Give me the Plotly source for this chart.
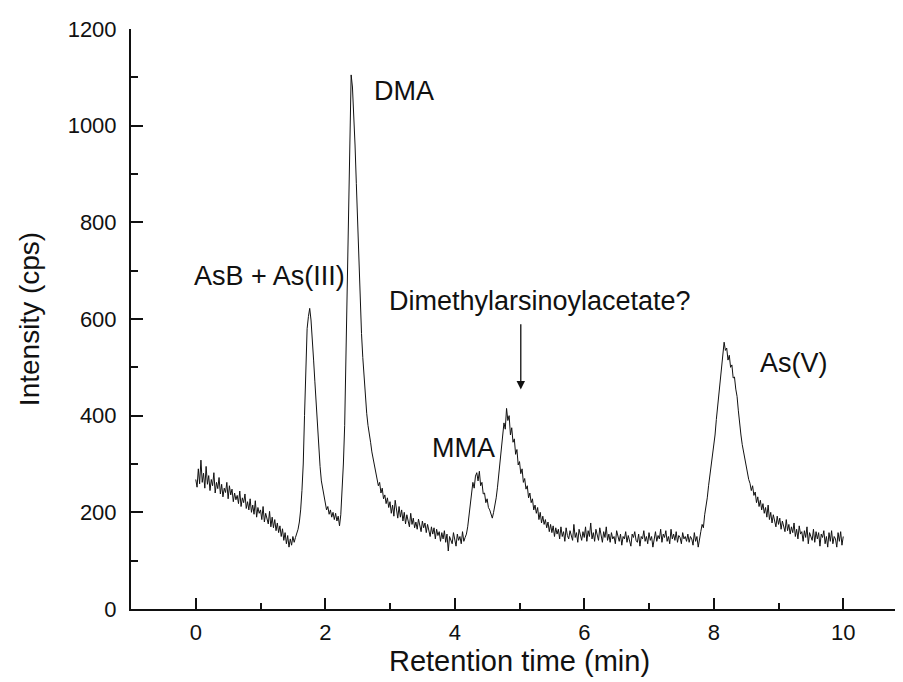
import plotly.graph_objects as go

# Sampling: one reading every 0.02 min from 0 to 10 min
time_step_min = 0.02
n_points = 501
retention_time = [round(i * time_step_min, 2) for i in range(n_points)]

# Intensity (cps), 10 readings per row (0.2 min)
intensity = [
    268, 252, 290, 259, 308, 262, 281, 250, 295, 258,    # 0.00
    276, 245, 268, 255, 282, 240, 262, 249, 272, 238,    # 0.20
    258, 232, 250, 241, 262, 228, 255, 236, 248, 222,    # 0.40
    240, 226, 235, 218, 244, 212, 230, 220, 238, 208,    # 0.60
    222, 205, 228, 200, 215, 196, 224, 190, 210, 198,    # 0.80
    205, 185, 212, 180, 198, 188, 176, 202, 170, 190,    # 1.00
    168, 185, 162, 178, 158, 172, 150, 166, 142, 158,    # 1.20
    135, 152, 128, 145, 132, 150, 138, 148, 155, 165,    # 1.40
    180, 205, 245, 300, 400, 520, 580, 605, 622, 598,    # 1.60
    565, 515, 470, 420, 385, 340, 295, 265, 248, 232,    # 1.80
    220, 205, 212, 196, 205, 190, 200, 185, 198, 182,    # 2.00
    192, 172, 195, 240, 300, 380, 520, 700, 880, 1020,   # 2.20
    1105, 1080, 1030, 960, 880, 800, 700, 620, 570, 520, # 2.40
    475, 440, 405, 380, 365, 345, 325, 310, 300, 285,    # 2.60
    270, 255, 262, 240, 250, 228, 236, 218, 230, 210,    # 2.80
    222, 198, 215, 192, 225, 200, 188, 212, 190, 205,    # 3.00
    182, 200, 176, 195, 185, 170, 198, 175, 188, 168,    # 3.20
    180, 165, 186, 172, 160, 182, 168, 178, 158, 175,    # 3.40
    162, 150, 170, 155, 168, 145, 165, 152, 160, 140,    # 3.60
    158, 145, 162, 138, 155, 120, 150, 142, 135, 158,    # 3.80
    140, 130, 155, 142, 150, 135, 160, 140, 148, 155,    # 4.00
    170, 195, 220, 248, 262, 250, 275, 282, 265, 285,    # 4.20
    255, 262, 238, 240, 220, 228, 210, 205, 195, 188,    # 4.40
    200, 212, 230, 252, 278, 300, 335, 362, 385, 372,    # 4.60
    415, 390, 400, 360, 375, 345, 352, 320, 330, 298,    # 4.80
    305, 280, 290, 262, 270, 248, 255, 230, 240, 220,    # 5.00
    228, 205, 215, 198, 210, 185, 200, 178, 192, 175,    # 5.20
    185, 168, 180, 160, 175, 158, 172, 150, 168, 155,    # 5.40
    165, 145, 170, 150, 160, 140, 168, 152, 145, 162,    # 5.60
    150, 142, 175, 148, 158, 138, 165, 150, 142, 160,    # 5.80
    148, 170, 140, 162, 150, 178, 145, 158, 140, 165,    # 6.00
    152, 142, 168, 150, 138, 160, 148, 170, 142, 155,    # 6.20
    138, 158, 145, 150, 135, 162, 148, 140, 155, 132,    # 6.40
    150, 145, 160, 138, 152, 142, 130, 155, 148, 160,    # 6.60
    142, 138, 155, 130, 150, 145, 162, 140, 150, 135,    # 6.80
    158, 142, 150, 128, 148, 160, 140, 152, 145, 165,    # 7.00
    138, 155, 148, 162, 140, 150, 135, 165, 145, 155,    # 7.20
    142, 160, 138, 152, 148, 135, 158, 145, 150, 140,    # 7.40
    155, 138, 150, 145, 132, 158, 140, 150, 128, 148,    # 7.60
    160, 175, 168, 195, 210, 230, 255, 275, 290, 315,    # 7.80
    340, 360, 392, 420, 455, 480, 510, 530, 552, 535,    # 8.00
    540, 515, 525, 500, 505, 478, 480, 455, 440, 410,    # 8.20
    380, 360, 340, 325, 312, 295, 282, 268, 260, 245,    # 8.40
    255, 235, 242, 220, 232, 212, 225, 205, 218, 198,    # 8.60
    210, 190, 215, 185, 200, 178, 195, 182, 170, 192,    # 8.80
    175, 188, 165, 182, 172, 160, 185, 162, 175, 155,    # 9.00
    170, 158, 178, 150, 165, 145, 172, 155, 160, 140,    # 9.20
    162, 148, 170, 135, 158, 150, 142, 165, 138, 160,    # 9.40
    145, 158, 130, 155, 148, 162, 135, 150, 128, 158,    # 9.60
    140, 162, 135, 150, 145, 128, 158, 140, 160, 132,    # 9.80
    150,                                                 # 10.00
]

# Peak labels: text, x (min), y (cps), horizontal anchor
label_text = ["AsB + As(III)", "DMA", "MMA", "Dimethylarsinoylacetate?", "As(V)"]
label_x = [1.14, 2.72, 3.61, 7.68, 8.69]
label_y = [689, 1072, 333, 637, 509]
label_anchor = ["center", "left", "left", "right", "left"]

# Arrow pointing at the dimethylarsinoylacetate peak
arrow_x = 5.02
arrow_tail_y = 592
arrow_head_y = 454

x_ticks = [0, 2, 4, 6, 8, 10]
y_ticks = [0, 200, 400, 600, 800, 1000, 1200]

FONT = "Liberation Sans, Arial, Helvetica, sans-serif"
INK = "#111111"

fig = go.Figure()
fig.add_trace(go.Scatter(
    x=retention_time, y=intensity, mode="lines",
    line=dict(color=INK, width=1),
    showlegend=False, hoverinfo="skip",
))

for txt, lx, ly, anc in zip(label_text, label_x, label_y, label_anchor):
    fig.add_annotation(x=lx, y=ly, xref="x", yref="y", text=txt,
                       showarrow=False, xanchor=anc, yanchor="middle",
                       font=dict(family=FONT, size=27, color=INK))

fig.add_annotation(x=arrow_x, y=arrow_head_y, ax=arrow_x, ay=arrow_tail_y,
                   xref="x", yref="y", axref="x", ayref="y", text="",
                   showarrow=True, arrowhead=2, arrowsize=1.3, arrowwidth=1.3,
                   arrowcolor=INK)

axis_common = dict(
    showline=True, linecolor=INK, linewidth=2,
    ticks="inside", tickcolor=INK, tickwidth=2,
    showgrid=False, zeroline=False,
    tickfont=dict(family=FONT, size=22, color=INK),
)

fig.update_xaxes(
    range=[-1, 11], tickvals=x_ticks, ticklen=11,
    minor=dict(dtick=1, tick0=1, ticks="inside", ticklen=6, tickwidth=2, tickcolor=INK),
    title=dict(text="Retention time (min)", standoff=4,
               font=dict(family=FONT, size=29, color=INK)),
    ticklabelstandoff=3,
    **axis_common,
)
fig.update_yaxes(
    range=[0, 1200], tickvals=y_ticks, ticklen=12,
    minor=dict(dtick=100, tick0=100, ticks="inside", ticklen=7, tickwidth=2, tickcolor=INK),
    title=dict(text="Intensity (cps)", standoff=20,
               font=dict(family=FONT, size=28, color=INK)),
    ticklabelstandoff=8,
    **axis_common,
)

fig.update_layout(
    width=903, height=682,
    margin=dict(l=123, r=3, t=21, b=81, autoexpand=False),
    plot_bgcolor="white", paper_bgcolor="white",
    font=dict(family=FONT, color=INK),
)

fig.write_html("out.html")
